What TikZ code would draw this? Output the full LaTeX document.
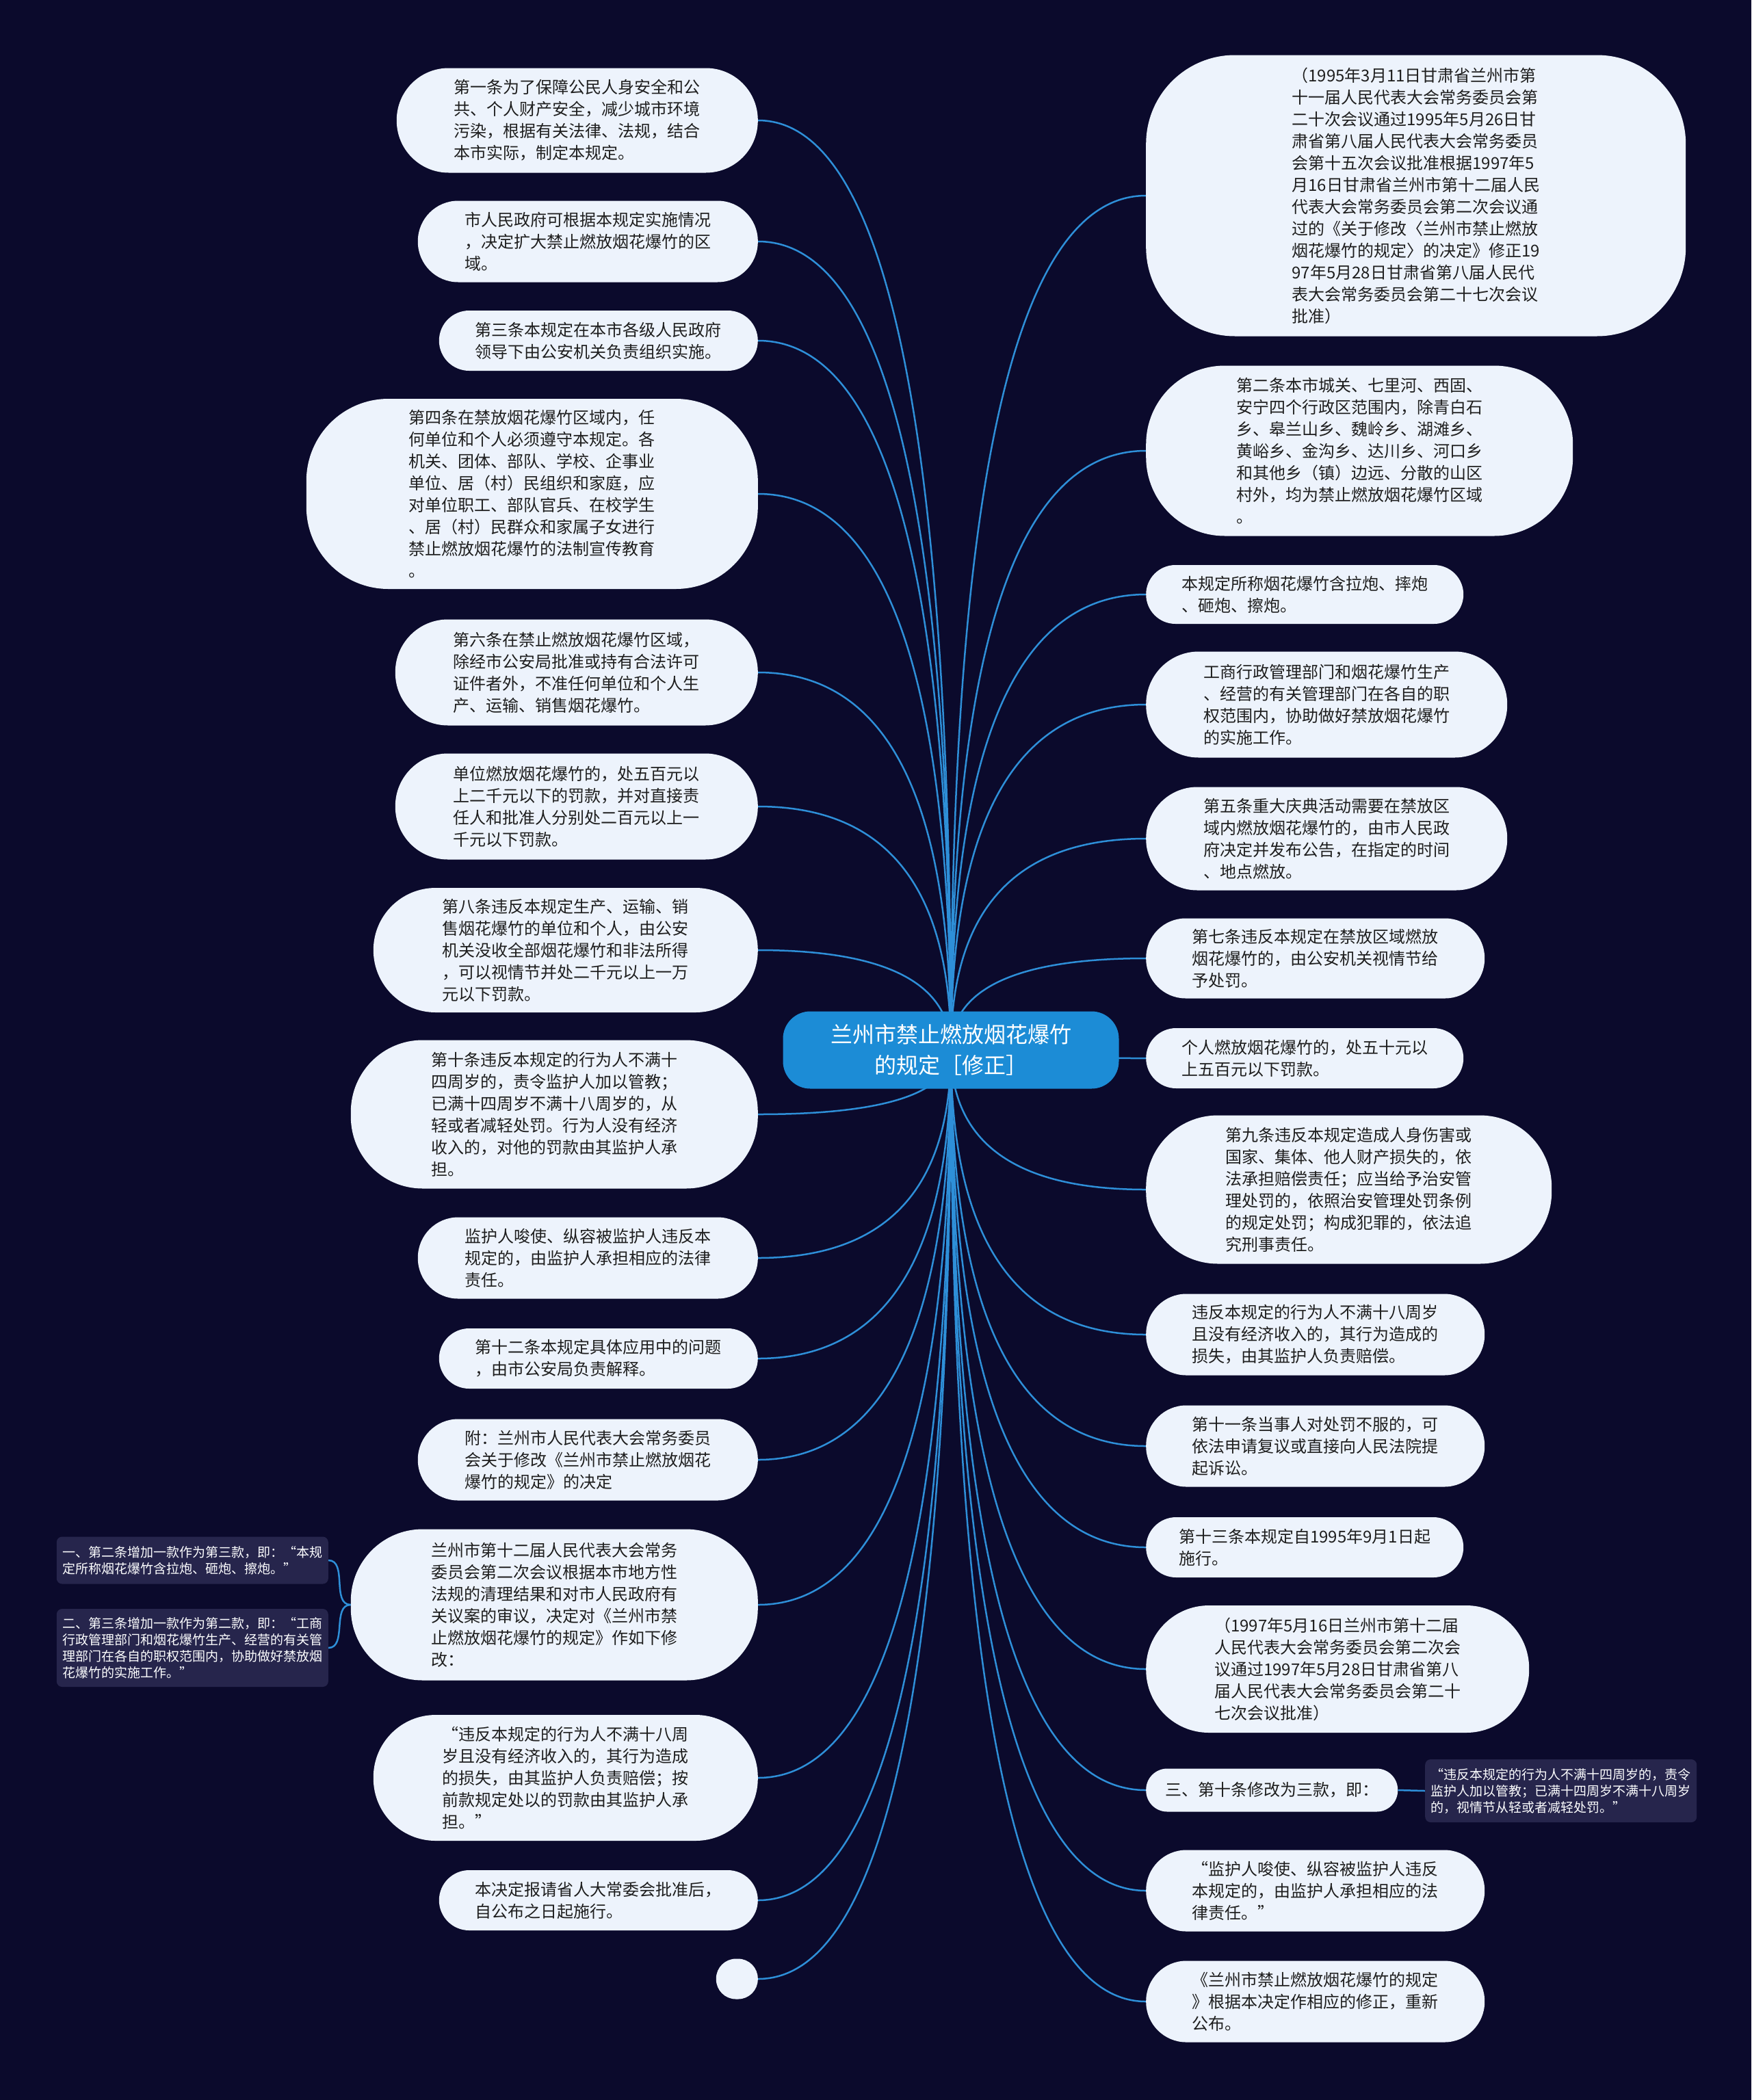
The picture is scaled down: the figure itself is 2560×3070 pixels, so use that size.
\documentclass[tikz,border=0pt]{standalone}
\usepackage{fontspec}
\newfontfamily\cjk{Noto Sans CJK SC}
\usetikzlibrary{calc}
\definecolor{cBg}{HTML}{0B0A2C}
\definecolor{cLeaf}{HTML}{EDF3FC}
\definecolor{cRoot}{HTML}{1C8CD6}
\definecolor{cLine}{HTML}{2E8FD8}
\definecolor{cNote}{HTML}{26254C}
\definecolor{cText}{HTML}{1E1E1E}
\pgfdeclarelayer{bg}
\pgfdeclarelayer{wires}
\pgfsetlayers{bg,wires,main}
\tikzset{
  leaf/.style n args={3}{rectangle, fill=cLeaf, text=cText, align=left, inner sep=0pt,
    minimum width=#1, minimum height=#2, rounded corners=#3, font=\cjk\fontsize{24}{32}\selectfont},
  rootbox/.style={rectangle, fill=cRoot, text=white, align=center, inner sep=0pt,
    minimum width=491, minimum height=113, rounded corners=40, font=\cjk\fontsize{32}{45}\selectfont},
  note/.style n args={2}{rectangle, fill=cNote, text=white!90!cLeaf, align=left, inner sep=0pt,
    minimum width=#1, minimum height=#2, rounded corners=8, font=\cjk\fontsize{19}{24}\selectfont},
  branch/.style={cLine, line width=2.5pt},
}

\begin{document}
\begin{tikzpicture}[x=1pt, y=-1pt]
  \useasboundingbox (0,0) rectangle (2560,3070);
  \begin{pgfonlayer}{bg}
    \fill[cBg] (0,0) rectangle (2560,3070);
  \end{pgfonlayer}

  \node[rootbox] (root) at (1390,1535) {兰州市禁止燃放烟花爆竹\\的规定［修正］};

  % left side
  \node[leaf={528}{153}{76}, anchor=east] (L1) at (1108,176) {第一条为了保障公民人身安全和公\\共、个人财产安全，减少城市环境\\污染，根据有关法律、法规，结合\\本市实际，制定本规定。};
  \node[leaf={497}{119}{59}, anchor=east] (L2) at (1108,353) {市人民政府可根据本规定实施情况\\，决定扩大禁止燃放烟花爆竹的区\\域。};
  \node[leaf={466}{88}{44}, anchor=east] (L3) at (1108,498) {第三条本规定在本市各级人民政府\\领导下由公安机关负责组织实施。};
  \node[leaf={660}{278}{120}, anchor=east] (L4) at (1108,722) {第四条在禁放烟花爆竹区域内，任\\何单位和个人必须遵守本规定。各\\机关、团体、部队、学校、企事业\\单位、居（村）民组织和家庭，应\\对单位职工、部队官兵、在校学生\\、居（村）民群众和家属子女进行\\禁止燃放烟花爆竹的法制宣传教育\\。};
  \node[leaf={530}{155}{77}, anchor=east] (L5) at (1108,983) {第六条在禁止燃放烟花爆竹区域，\\除经市公安局批准或持有合法许可\\证件者外，不准任何单位和个人生\\产、运输、销售烟花爆竹。};
  \node[leaf={530}{155}{77}, anchor=east] (L6) at (1108,1179) {单位燃放烟花爆竹的，处五百元以\\上二千元以下的罚款，并对直接责\\任人和批准人分别处二百元以上一\\千元以下罚款。};
  \node[leaf={562}{182}{91}, anchor=east] (L7) at (1108,1389) {第八条违反本规定生产、运输、销\\售烟花爆竹的单位和个人，由公安\\机关没收全部烟花爆竹和非法所得\\，可以视情节并处二千元以上一万\\元以下罚款。};
  \node[leaf={595}{217}{105}, anchor=east] (L8) at (1108,1629) {第十条违反本规定的行为人不满十\\四周岁的，责令监护人加以管教；\\已满十四周岁不满十八周岁的，从\\轻或者减轻处罚。行为人没有经济\\收入的，对他的罚款由其监护人承\\担。};
  \node[leaf={497}{119}{59}, anchor=east] (L9) at (1108,1839) {监护人唆使、纵容被监护人违反本\\规定的，由监护人承担相应的法律\\责任。};
  \node[leaf={466}{88}{44}, anchor=east] (L10) at (1108,1986) {第十二条本规定具体应用中的问题\\，由市公安局负责解释。};
  \node[leaf={497}{119}{59}, anchor=east] (L11) at (1108,2134) {附：兰州市人民代表大会常务委员\\会关于修改《兰州市禁止燃放烟花\\爆竹的规定》的决定};
  \node[leaf={595}{221}{105}, anchor=east] (L12) at (1108,2346) {兰州市第十二届人民代表大会常务\\委员会第二次会议根据本市地方性\\法规的清理结果和对市人民政府有\\关议案的审议，决定对《兰州市禁\\止燃放烟花爆竹的规定》作如下修\\改：};
  \node[leaf={562}{184}{91}, anchor=east] (L13) at (1108,2599) {“违反本规定的行为人不满十八周\\岁且没有经济收入的，其行为造成\\的损失，由其监护人负责赔偿；按\\前款规定处以的罚款由其监护人承\\担。”};
  \node[leaf={466}{88}{44}, anchor=east] (L14) at (1108,2778) {本决定报请省人大常委会批准后，\\自公布之日起施行。};
  \node[leaf={61}{59}{29}, anchor=east] (L15) at (1108,2893) {};

  % notes of L12
  \node[note={397}{69}, anchor=east] (S1) at (480,2281) {一、第二条增加一款作为第三款，即：“本规\\定所称烟花爆竹含拉炮、砸炮、擦炮。”};
  \node[note={397}{114}, anchor=east] (S2) at (480,2409) {二、第三条增加一款作为第二款，即：“工商\\行政管理部门和烟花爆竹生产、经营的有关管\\理部门在各自的职权范围内，协助做好禁放烟\\花爆竹的实施工作。”};

  % right side
  \node[leaf={789}{411}{130}, anchor=west] (R1) at (1675,286) {（1995年3月11日甘肃省兰州市第\\十一届人民代表大会常务委员会第\\二十次会议通过1995年5月26日甘\\肃省第八届人民代表大会常务委员\\会第十五次会议批准根据1997年5\\月16日甘肃省兰州市第十二届人民\\代表大会常务委员会第二次会议通\\过的《关于修改〈兰州市禁止燃放\\烟花爆竹的规定〉的决定》修正19\\97年5月28日甘肃省第八届人民代\\表大会常务委员会第二十七次会议\\批准）};
  \node[leaf={624}{249}{115}, anchor=west] (R2) at (1675,659) {第二条本市城关、七里河、西固、\\安宁四个行政区范围内，除青白石\\乡、皋兰山乡、魏岭乡、湖滩乡、\\黄峪乡、金沟乡、达川乡、河口乡\\和其他乡（镇）边远、分散的山区\\村外，均为禁止燃放烟花爆竹区域\\。};
  \node[leaf={464}{86}{43}, anchor=west] (R3) at (1675,869) {本规定所称烟花爆竹含拉炮、摔炮\\、砸炮、擦炮。};
  \node[leaf={528}{155}{77}, anchor=west] (R4) at (1675,1030) {工商行政管理部门和烟花爆竹生产\\、经营的有关管理部门在各自的职\\权范围内，协助做好禁放烟花爆竹\\的实施工作。};
  \node[leaf={528}{151}{75}, anchor=west] (R5) at (1675,1226) {第五条重大庆典活动需要在禁放区\\域内燃放烟花爆竹的，由市人民政\\府决定并发布公告，在指定的时间\\、地点燃放。};
  \node[leaf={495}{117}{58}, anchor=west] (R6) at (1675,1401) {第七条违反本规定在禁放区域燃放\\烟花爆竹的，由公安机关视情节给\\予处罚。};
  \node[leaf={464}{88}{44}, anchor=west] (R7) at (1675,1547) {个人燃放烟花爆竹的，处五十元以\\上五百元以下罚款。};
  \node[leaf={593}{217}{105}, anchor=west] (R8) at (1675,1739) {第九条违反本规定造成人身伤害或\\国家、集体、他人财产损失的，依\\法承担赔偿责任；应当给予治安管\\理处罚的，依照治安管理处罚条例\\的规定处罚；构成犯罪的，依法追\\究刑事责任。};
  \node[leaf={495}{119}{59}, anchor=west] (R9) at (1675,1951) {违反本规定的行为人不满十八周岁\\且没有经济收入的，其行为造成的\\损失，由其监护人负责赔偿。};
  \node[leaf={495}{119}{59}, anchor=west] (R10) at (1675,2114) {第十一条当事人对处罚不服的，可\\依法申请复议或直接向人民法院提\\起诉讼。};
  \node[leaf={464}{88}{44}, anchor=west] (R11) at (1675,2262) {第十三条本规定自1995年9月1日起\\施行。};
  \node[leaf={560}{186}{92}, anchor=west] (R12) at (1675,2440) {（1997年5月16日兰州市第十二届\\人民代表大会常务委员会第二次会\\议通过1997年5月28日甘肃省第八\\届人民代表大会常务委员会第二十\\七次会议批准）};
  \node[leaf={368}{63}{31}, anchor=west] (R13) at (1675,2617) {三、第十条修改为三款，即：};
  \node[leaf={495}{119}{59}, anchor=west] (R14) at (1675,2764) {“监护人唆使、纵容被监护人违反\\本规定的，由监护人承担相应的法\\律责任。”};
  \node[leaf={495}{119}{59}, anchor=west] (R15) at (1675,2926) {《兰州市禁止燃放烟花爆竹的规定\\》根据本决定作相应的修正，重新\\公布。};

  % note of R13
  \node[note={397}{92}, anchor=west] (S3) at (2083,2618) {“违反本规定的行为人不满十四周岁的，责令\\监护人加以管教；已满十四周岁不满十八周岁\\的，视情节从轻或者减轻处罚。”};

  \begin{pgfonlayer}{wires}
    \foreach \n in {L1,L2,L3,L4,L5,L6,L7,L8,L9,L10,L11,L12,L13,L14,L15}
      \draw[branch] (root.center) .. controls ($(root.center)!0.667!(root.center |- \n.east)$)
        and ($(\n.east)!0.667!(root.center |- \n.east)$) .. (\n.east);
    \foreach \n in {R1,R2,R3,R4,R5,R6,R7,R8,R9,R10,R11,R12,R13,R14,R15}
      \draw[branch] (root.center) .. controls ($(root.center)!0.667!(root.center |- \n.west)$)
        and ($(\n.west)!0.667!(root.center |- \n.west)$) .. (\n.west);
    \draw[branch] (L12.west) to[out=180, in=0] (S1.east);
    \draw[branch] (L12.west) to[out=180, in=0] (S2.east);
    \draw[branch] (R13.east) -- (S3.west);
  \end{pgfonlayer}
\end{tikzpicture}
\end{document}
